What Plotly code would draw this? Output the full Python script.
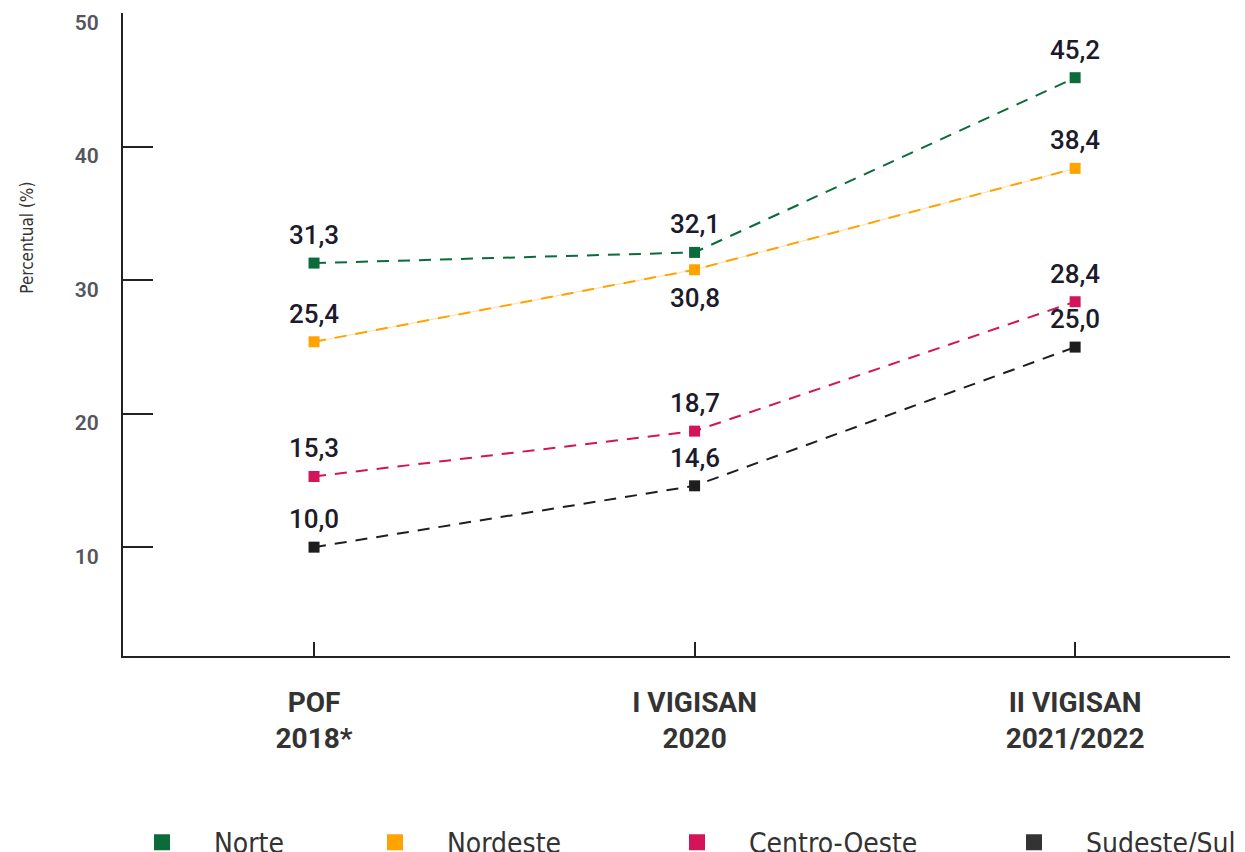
import plotly.graph_objects as go

# survey rounds (x axis) and percentages per region
rounds = ["POF<br>2018*", "I VIGISAN<br>2020", "II VIGISAN<br>2021/2022"]
regions = ["Norte", "Nordeste", "Centro-Oeste", "Sudeste/Sul"]
norte = [31.3, 32.1, 45.2]
nordeste = [25.4, 30.8, 38.4]
centro_oeste = [15.3, 18.7, 28.4]
sudeste_sul = [10.0, 14.6, 25.0]
y_ticks = [10, 20, 30, 40, 50]

series = [norte, nordeste, centro_oeste, sudeste_sul]
colors = ["#0b6b3a", "#ffa300", "#d4145a", "#1e1e1e"]
legend_colors = ["#0b6b3a", "#ffa300", "#d4145a", "#333333"]
# label goes below the point for Nordeste in 2020, above otherwise
label_below = [[False, False, False], [False, True, False],
               [False, False, False], [False, False, False]]

x_idx = list(range(len(rounds)))
fig = go.Figure()

# faint solid guide under the orange dashes
fig.add_trace(go.Scatter(
    x=x_idx, y=nordeste, mode="lines", showlegend=False, hoverinfo="skip",
    line=dict(color="rgba(255,163,0,0.35)", width=1),
))

for name, vals, col in zip(regions, series, colors):
    fig.add_trace(go.Scatter(
        x=x_idx, y=vals, mode="lines+markers", name=name, showlegend=False,
        line=dict(color=col, width=2, dash="12px,9px"),
        marker=dict(symbol="square", size=11, color=col),
    ))

# legend-only entries (square swatches), one legend each so they sit where the original has them
swatch_centers = [163, 396, 698, 1035]
for i, (name, col) in enumerate(zip(regions, legend_colors)):
    key = "legend" if i == 0 else f"legend{i + 1}"
    fig.add_trace(go.Scatter(
        x=[None], y=[None], mode="markers", name=name, legend=key,
        marker=dict(symbol="square", size=20, color=col),
    ))
    fig.update_layout({key: dict(
        xref="container", yref="paper", x=(swatch_centers[i] - 61) / 1245, y=-0.29,
        xanchor="left", yanchor="middle", itemwidth=94, bgcolor="rgba(0,0,0,0)",
        font=dict(family="DejaVu Sans Condensed, Roboto, sans-serif", size=28, color="#333333"),
    )})

# value labels
for vals, below in zip(series, label_below):
    for xi, v, b in zip(x_idx, vals, below):
        fig.add_annotation(
            x=xi, y=v, text=f"{v:.1f}".replace(".", ","), showarrow=False,
            yshift=-28 if b else 28,
            font=dict(family="Roboto, sans-serif", size=26, color="#1b1b2b", weight=500),
        )

fig.add_annotation(
    xref="paper", yref="paper", x=-0.087, y=0.65, text="Percentual (%)", textangle=-90,
    showarrow=False, xanchor="center", yanchor="middle",
    font=dict(family="DejaVu Sans Condensed, Roboto, sans-serif", size=17, color="#333333"),
)

fig.update_xaxes(
    range=[-0.502, 2.407], tickvals=x_idx, ticktext=rounds,
    showline=True, linecolor="#222222", linewidth=2, showgrid=False, zeroline=False,
    ticks="inside", ticklen=14, tickwidth=2, tickcolor="#222222",
    ticklabelstandoff=20,
    tickfont=dict(family="Roboto, sans-serif", size=28, color="#333333", weight=700),
)
fig.update_yaxes(
    range=[1.84, 50.05], tickvals=y_ticks,
    showline=True, linecolor="#222222", linewidth=2, showgrid=False, zeroline=False,
    ticks="inside", ticklen=30, tickwidth=2, tickcolor="#222222",
    ticklabelstandoff=18, ticklabelshift=9,
    tickfont=dict(family="Roboto, sans-serif", size=21, color="#555560", weight=600),
)
fig.update_layout(
    width=1245, height=852,
    margin=dict(l=115, r=23, t=5, b=204, autoexpand=False),
    plot_bgcolor="white", paper_bgcolor="white",
)

fig.write_html("out.html")
